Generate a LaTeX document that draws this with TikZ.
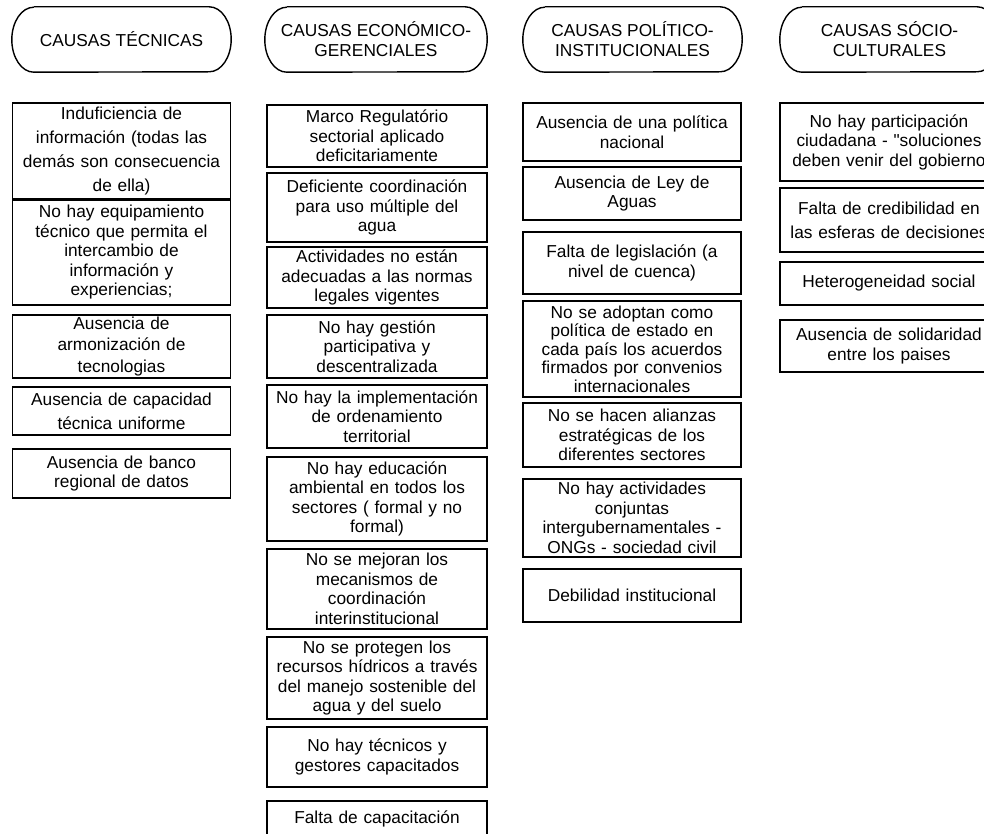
\documentclass[tikz,border=0pt]{standalone}
\usepackage{fontspec}
\setmainfont{Liberation Sans}
\newfontfamily\recta{Liberation Sans}
\tikzset{
  % titoli delle colonne (ovali)
  titulo/.style={minimum width=219pt,minimum height=65pt,inner sep=0pt,align=center,
    font=\fontsize{17.3}{20}\selectfont},
  % riquadri delle cause
  causa/.style={draw,line width=1.4pt,minimum width=218pt,text width=214pt,inner xsep=2pt,
    inner ysep=0pt,align=center,font=\fontsize{17.3}{19.5}\selectfont},
  causa larga/.style={causa,font=\fontsize{17.3}{24}\selectfont}
}
\begin{document}
\begin{tikzpicture}[x=1pt,y=-1pt]
  \useasboundingbox (0,0) rectangle (984,834);
  \clip (0,0) rectangle (984,834);
  % titoli
  \node[titulo] (h1) at (121.5,39.5) {CAUSAS TÉCNICAS};
  \node[titulo,minimum width=222pt] (h2) at (376,39.5) {CAUSAS ECONÓMICO-\\GERENCIALES};
  \node[titulo] (h3) at (632.5,39.5) {CAUSAS POLÍTICO-\\INSTITUCIONALES};
  \node[titulo] (h4) at (889.5,39.5) {CAUSAS SÓCIO-\\CULTURALES};
  \foreach \h in {h1,h2,h3,h4}
    \draw[line width=1.4pt] ([xshift=22pt]\h.north west) -- ([xshift=-22pt]\h.north east)
      arc[start angle=90,end angle=-90,x radius=22pt,y radius=32.5pt]
      -- ([xshift=22pt]\h.south west)
      arc[start angle=270,end angle=90,x radius=22pt,y radius=32.5pt];
  % causas técnicas
  \node[causa larga,minimum height=96] (a1) at (121.5,151) {Induficiencia de\\información (todas las\\demás son consecuencia\\de ella)};
  \node[causa,minimum height=105] (a2) at (121.5,252.5) {No hay equipamiento\\técnico que permita el\\intercambio de\\información y\\experiencias;};
  \node[causa,minimum height=63,font=\fontsize{17.3}{21.5}\selectfont] (a3) at (121.5,346.5) {Ausencia de\\armonización de\\tecnologias};
  \node[causa larga,minimum height=48] (a4) at (121.5,411) {Ausencia de capacidad\\técnica uniforme};
  \node[causa,minimum height=49] (a5) at (121.5,473.5) {Ausencia de banco\\regional de datos};
  % causas económico-gerenciales
  \node[causa,minimum width=220pt,minimum height=62] (b1) at (377,136) {Marco Regulatório\\sectorial aplicado\\deficitariamente};
  \node[causa,minimum width=220pt,minimum height=69] (b2) at (377,207.5) {Deficiente coordinación\\para uso múltiple del\\agua};
  \node[causa,minimum width=220pt,minimum height=61] (b3) at (377,277.5) {Actividades no están\\adecuadas a las normas\\legales vigentes};
  \node[causa,minimum width=220pt,minimum height=63] (b4) at (377,346.5) {No hay gestión\\participativa y\\descentralizada};
  \node[causa,minimum width=220pt,minimum height=63] (b5) at (377,416.5) {No hay la implementación\\de ordenamiento\\territorial};
  \node[causa,minimum width=220pt,minimum height=84] (b6) at (377,499) {No hay educación\\ambiental en todos los\\sectores ( formal y no\\formal)};
  \node[causa,minimum width=220pt,minimum height=80] (b7) at (377,589) {No se mejoran los\\mecanismos de\\coordinación\\interinstitucional};
  \node[causa,minimum width=220pt,minimum height=82] (b8) at (377,678) {No se protegen los\\recursos hídricos a través\\del manejo sostenible del\\agua y del suelo};
  \node[causa,minimum width=220pt,minimum height=60] (b9) at (377,757) {No hay técnicos y\\gestores capacitados};
  \node[causa,minimum width=220pt,anchor=base,text height=16pt,text depth=34pt,inner ysep=6pt] (b10) at (377,823) {Falta de capacitación};
  % causas político-institucionales
  \node[causa,minimum height=58] (p1) at (632,132) {Ausencia de una política\\nacional};
  \node[causa,minimum height=53] (p2) at (632,193.5) {Ausencia de Ley de\\Aguas};
  \node[causa,minimum height=62] (p3) at (632,263) {Falta de legislación (a\\nivel de cuenca)};
  \node[causa,minimum height=96,font=\fontsize{17.3}{18.5}\selectfont] (p4) at (632,349) {No se adoptan como\\política de estado en\\cada país los acuerdos\\firmados por convenios\\internacionales};
  \node[causa,minimum height=64] (p5) at (632,435) {No se hacen alianzas\\estratégicas de los\\diferentes sectores};
  \node[causa,minimum height=78] (p6) at (632,518) {No hay actividades\\conjuntas\\intergubernamentales -\\ONGs - sociedad civil};
  \node[causa,minimum height=53] (p7) at (632,595.5) {Debilidad institucional};
  % causas sócio-culturales
  \node[causa,minimum height=78] (s1) at (889,142) {No hay participación\\ciudadana - {\recta"}soluciones\\deben venir del gobierno};
  \node[causa larga,minimum height=64] (s2) at (889,220) {Falta de credibilidad en\\las esferas de decisiones};
  \node[causa,minimum height=43] (s3) at (889,283.5) {Heterogeneidad social};
  \node[causa,minimum height=52] (s4) at (889,346) {Ausencia de solidaridad\\entre los paises};
\end{tikzpicture}
\end{document}
